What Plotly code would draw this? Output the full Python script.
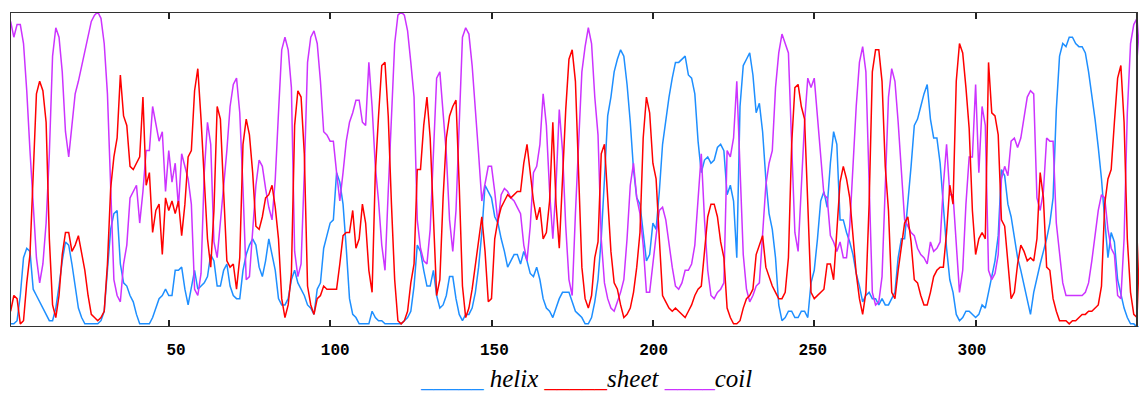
import plotly.graph_objects as go

# Secondary-structure prediction probabilities per residue
helix = [
    0.01, 0.01, 0.02, 0.10, 0.22, 0.25, 0.24, 0.12, 0.10, 0.08, 0.06, 0.04, 0.02, 0.02, 0.06, 0.13,
    0.21, 0.27, 0.26, 0.20, 0.13, 0.06, 0.03, 0.01, 0.01, 0.01, 0.01, 0.01, 0.02, 0.05, 0.18, 0.31,
    0.36, 0.37, 0.20, 0.14, 0.13, 0.10, 0.08, 0.04, 0.01, 0.01, 0.01, 0.01, 0.03, 0.06, 0.09, 0.10,
    0.12, 0.10, 0.10, 0.18, 0.18, 0.19, 0.12, 0.07, 0.13, 0.18, 0.12, 0.13, 0.14, 0.16, 0.23,
    0.21, 0.13, 0.13, 0.18, 0.20, 0.13, 0.10, 0.09, 0.09, 0.18, 0.23, 0.26, 0.28, 0.26, 0.19, 0.16,
    0.21, 0.28, 0.23, 0.18, 0.09, 0.07, 0.07, 0.09, 0.15, 0.18, 0.14, 0.12, 0.10, 0.07, 0.06, 0.04,
    0.12, 0.14, 0.25, 0.29, 0.33, 0.34, 0.49, 0.46, 0.39, 0.25, 0.09, 0.04, 0.03, 0.01, 0.01, 0.01,
    0.01, 0.05, 0.03, 0.02, 0.02, 0.01, 0.01, 0.01, 0.01, 0.01, 0.01, 0.02, 0.03, 0.05, 0.13, 0.26,
    0.24, 0.18, 0.13, 0.13, 0.18, 0.10, 0.06, 0.07, 0.10, 0.16, 0.16, 0.09, 0.04, 0.02, 0.04, 0.04,
    0.06, 0.11, 0.19, 0.30, 0.45, 0.43, 0.41, 0.35, 0.33, 0.28, 0.24, 0.19, 0.21, 0.23, 0.23,
    0.20, 0.24, 0.21, 0.17, 0.16, 0.19, 0.15, 0.09, 0.06, 0.05, 0.03, 0.06, 0.09, 0.11, 0.11, 0.11,
    0.08, 0.05, 0.04, 0.03, 0.01, 0.01, 0.03, 0.08, 0.15, 0.28, 0.47, 0.67, 0.73, 0.81, 0.85, 0.88,
    0.86, 0.77, 0.65, 0.50, 0.41, 0.39, 0.30, 0.21, 0.23, 0.33, 0.31, 0.43, 0.58, 0.66, 0.73, 0.79,
    0.84, 0.84, 0.85, 0.86, 0.80, 0.79, 0.74, 0.59, 0.49, 0.53, 0.54, 0.52, 0.53, 0.57, 0.58, 0.56,
    0.42, 0.45, 0.40, 0.22, 0.70, 0.83, 0.85, 0.87, 0.80, 0.68, 0.71, 0.62, 0.47, 0.36, 0.31, 0.22,
    0.07, 0.02, 0.03, 0.05, 0.05, 0.03, 0.03, 0.05, 0.05, 0.03, 0.14, 0.18, 0.28, 0.40, 0.43,
    0.38, 0.52, 0.62, 0.58, 0.34, 0.34, 0.30, 0.27, 0.23, 0.17, 0.13, 0.08, 0.10, 0.11, 0.09, 0.09,
    0.07, 0.09, 0.07, 0.07, 0.09, 0.11, 0.22, 0.28, 0.28, 0.39, 0.51, 0.64, 0.66, 0.70, 0.74, 0.77,
    0.66, 0.60, 0.60, 0.52, 0.38, 0.25, 0.15, 0.11, 0.04, 0.02, 0.03, 0.05, 0.05, 0.04, 0.03, 0.04,
    0.07, 0.06, 0.11, 0.16, 0.21, 0.29, 0.50, 0.48, 0.39, 0.35, 0.28, 0.22, 0.18, 0.13, 0.08, 0.04,
    0.11, 0.16, 0.20, 0.24, 0.28, 0.33, 0.41, 0.69, 0.86, 0.90, 0.89, 0.92, 0.92, 0.90, 0.89, 0.89,
    0.87, 0.81, 0.74, 0.66, 0.57, 0.47, 0.34, 0.22, 0.30, 0.27, 0.15, 0.10, 0.06, 0.03, 0.01, 0.01,
    0.00, 0.00, 0.00, 0.00,
]

sheet = [
    0.05, 0.10, 0.09, 0.01, 0.02, 0.14, 0.23, 0.51, 0.74, 0.78, 0.75, 0.65, 0.28, 0.07, 0.03, 0.10,
    0.23, 0.30, 0.30, 0.24, 0.26, 0.29, 0.23, 0.18, 0.10, 0.04, 0.03, 0.02, 0.03, 0.05, 0.20, 0.44,
    0.54, 0.60, 0.80, 0.67, 0.64, 0.51, 0.50, 0.52, 0.54, 0.73, 0.45, 0.49, 0.30, 0.37, 0.39, 0.23,
    0.41, 0.37, 0.40, 0.36, 0.40, 0.29, 0.39, 0.54, 0.56, 0.75, 0.82, 0.66, 0.47, 0.28, 0.19,
    0.37, 0.70, 0.66, 0.43, 0.21, 0.19, 0.20, 0.12, 0.22, 0.58, 0.66, 0.61, 0.49, 0.32, 0.31, 0.35,
    0.41, 0.42, 0.45, 0.38, 0.28, 0.09, 0.03, 0.07, 0.17, 0.64, 0.75, 0.73, 0.55, 0.13, 0.07, 0.04,
    0.09, 0.10, 0.13, 0.12, 0.12, 0.12, 0.12, 0.20, 0.29, 0.30, 0.30, 0.37, 0.25, 0.28, 0.39, 0.33,
    0.18, 0.11, 0.49, 0.67, 0.83, 0.84, 0.67, 0.39, 0.15, 0.02, 0.01, 0.02, 0.05, 0.14, 0.20, 0.50,
    0.50, 0.64, 0.73, 0.60, 0.36, 0.10, 0.15, 0.41, 0.60, 0.67, 0.70, 0.72, 0.45, 0.13, 0.03, 0.06,
    0.12, 0.20, 0.28, 0.35, 0.24, 0.08, 0.09, 0.28, 0.34, 0.38, 0.40, 0.42, 0.41, 0.42, 0.43,
    0.43, 0.52, 0.58, 0.49, 0.40, 0.34, 0.38, 0.28, 0.30, 0.40, 0.65, 0.39, 0.25, 0.47, 0.69, 0.85,
    0.88, 0.78, 0.51, 0.19, 0.09, 0.06, 0.10, 0.22, 0.27, 0.55, 0.58, 0.41, 0.24, 0.14, 0.12, 0.07,
    0.03, 0.04, 0.06, 0.11, 0.19, 0.30, 0.60, 0.73, 0.68, 0.52, 0.47, 0.28, 0.10, 0.08, 0.06, 0.05,
    0.06, 0.05, 0.04, 0.03, 0.05, 0.07, 0.10, 0.12, 0.13, 0.23, 0.35, 0.39, 0.39, 0.35, 0.27, 0.22,
    0.06, 0.03, 0.01, 0.01, 0.02, 0.06, 0.09, 0.10, 0.12, 0.23, 0.26, 0.29, 0.19, 0.16, 0.13, 0.11,
    0.09, 0.09, 0.11, 0.22, 0.58, 0.76, 0.77, 0.70, 0.66, 0.39, 0.11, 0.09, 0.10, 0.11, 0.12,
    0.20, 0.20, 0.15, 0.30, 0.46, 0.51, 0.47, 0.41, 0.29, 0.17, 0.09, 0.04, 0.11, 0.39, 0.81, 0.88,
    0.88, 0.78, 0.51, 0.37, 0.11, 0.09, 0.18, 0.25, 0.33, 0.35, 0.27, 0.15, 0.14, 0.10, 0.07, 0.07,
    0.11, 0.16, 0.18, 0.19, 0.19, 0.30, 0.45, 0.39, 0.78, 0.90, 0.87, 0.76, 0.63, 0.37, 0.23, 0.28,
    0.30, 0.28, 0.84, 0.68, 0.67, 0.61, 0.34, 0.32, 0.20, 0.09, 0.11, 0.20, 0.26, 0.24, 0.21, 0.22,
    0.21, 0.28, 0.49, 0.41, 0.19, 0.18, 0.09, 0.05, 0.02, 0.02, 0.02, 0.01, 0.02, 0.02, 0.03, 0.04,
    0.04, 0.05, 0.05, 0.06, 0.07, 0.13, 0.39, 0.47, 0.50, 0.65, 0.79, 0.83, 0.65, 0.28, 0.11, 0.04,
    0.03, 0.31, 0.21, 0.20,
]

coil = [
    0.97, 0.92, 0.96, 0.96, 0.90, 0.75, 0.56, 0.39, 0.22, 0.14, 0.20, 0.33, 0.55, 0.86, 0.95, 0.92,
    0.81, 0.62, 0.54, 0.64, 0.74, 0.78, 0.83, 0.88, 0.93, 0.97, 0.99, 1.00, 0.98, 0.90, 0.74, 0.44,
    0.15, 0.10, 0.08, 0.20, 0.26, 0.41, 0.43, 0.45, 0.33, 0.43, 0.56, 0.56, 0.70, 0.64, 0.59, 0.62,
    0.43, 0.56, 0.46, 0.52, 0.38, 0.55, 0.51, 0.47, 0.39, 0.12, 0.10, 0.17, 0.49, 0.65, 0.58,
    0.27, 0.22, 0.33, 0.43, 0.56, 0.70, 0.77, 0.79, 0.68, 0.44, 0.15, 0.16, 0.30, 0.45, 0.53, 0.51,
    0.44, 0.38, 0.34, 0.47, 0.68, 0.88, 0.92, 0.88, 0.76, 0.24, 0.16, 0.20, 0.49, 0.84, 0.92, 0.94,
    0.90, 0.78, 0.62, 0.61, 0.59, 0.59, 0.49, 0.40, 0.49, 0.59, 0.65, 0.68, 0.72, 0.72, 0.65, 0.64,
    0.84, 0.70, 0.51, 0.40, 0.26, 0.18, 0.43, 0.67, 0.90, 0.99, 1.00, 0.99, 0.94, 0.84, 0.73, 0.34,
    0.25, 0.21, 0.20, 0.31, 0.57, 0.79, 0.81, 0.68, 0.55, 0.34, 0.24, 0.37, 0.67, 0.92, 0.95, 0.93,
    0.83, 0.70, 0.55, 0.40, 0.45, 0.51, 0.51, 0.43, 0.33, 0.42, 0.44, 0.43, 0.41, 0.40, 0.38,
    0.36, 0.26, 0.21, 0.32, 0.49, 0.51, 0.58, 0.74, 0.64, 0.43, 0.28, 0.45, 0.69, 0.56, 0.32, 0.15,
    0.10, 0.36, 0.59, 0.81, 0.89, 0.95, 0.90, 0.73, 0.61, 0.28, 0.14, 0.09, 0.06, 0.05, 0.08, 0.11,
    0.15, 0.28, 0.45, 0.52, 0.41, 0.36, 0.26, 0.11, 0.11, 0.21, 0.29, 0.37, 0.38, 0.34, 0.26, 0.19,
    0.13, 0.12, 0.14, 0.18, 0.18, 0.20, 0.26, 0.41, 0.55, 0.34, 0.18, 0.10, 0.09, 0.11, 0.12, 0.14,
    0.56, 0.54, 0.60, 0.78, 0.49, 0.23, 0.12, 0.08, 0.10, 0.13, 0.14, 0.30, 0.45, 0.52, 0.56, 0.76,
    0.87, 0.93, 0.90, 0.87, 0.58, 0.30, 0.24, 0.43, 0.65, 0.79, 0.76, 0.79, 0.66, 0.52, 0.42,
    0.41, 0.29, 0.27, 0.24, 0.27, 0.22, 0.22, 0.32, 0.51, 0.70, 0.84, 0.89, 0.81, 0.48, 0.11, 0.07,
    0.08, 0.16, 0.42, 0.73, 0.82, 0.78, 0.65, 0.48, 0.34, 0.32, 0.30, 0.29, 0.25, 0.23, 0.22, 0.20,
    0.27, 0.24, 0.25, 0.27, 0.45, 0.58, 0.42, 0.42, 0.27, 0.11, 0.18, 0.39, 0.54, 0.54, 0.77, 0.49,
    0.70, 0.64, 0.18, 0.15, 0.17, 0.23, 0.47, 0.51, 0.48, 0.59, 0.60, 0.57, 0.60, 0.67, 0.73, 0.75,
    0.74, 0.41, 0.37, 0.43, 0.60, 0.59, 0.59, 0.33, 0.23, 0.14, 0.10, 0.10, 0.10, 0.10, 0.10, 0.10,
    0.11, 0.14, 0.21, 0.30, 0.37, 0.42, 0.41, 0.31, 0.25, 0.23, 0.10, 0.09, 0.28, 0.68, 0.90, 0.96,
    0.98, 0.84, 0.85, 0.86,
]

residues = list(range(1, len(helix) + 1))

tick_values = [50, 100, 150, 200, 250, 300, 350]
label_values = [50, 100, 150, 200, 250, 300]
label_text = ["50", "100", "150", "200", "250", "300"]

FRAME_END = 350          # last residue enclosed by the frame
X_RANGE = [0.81, 353.1]  # visible residue range
LABEL_RANGE = [-2.14, 354.96]

HELIX_COLOR = "#1e8fff"
SHEET_COLOR = "#ff0000"
COIL_COLOR = "#cc33ff"

fig = go.Figure()
fig.add_trace(go.Scatter(x=residues, y=helix, mode="lines", name="helix",
                         line=dict(color=HELIX_COLOR, width=1.5)))
fig.add_trace(go.Scatter(x=residues, y=coil, mode="lines", name="coil",
                         line=dict(color=COIL_COLOR, width=1.5)))
fig.add_trace(go.Scatter(x=residues, y=sheet, mode="lines", name="sheet",
                         line=dict(color=SHEET_COLOR, width=1.5)))
# empty carrier trace so the label axis (x2) is rendered
fig.add_trace(go.Scatter(x=[], y=[], xaxis="x2", yaxis="y", mode="lines",
                         showlegend=False, hoverinfo="skip"))

# the page body adds an 8px margin, so the figure is 8px smaller than the window
fig.update_layout(
    width=1139, height=388,
    margin=dict(l=2, r=0, t=4, b=69),
    plot_bgcolor="white", paper_bgcolor="white",
    showlegend=False,
    xaxis=dict(
        range=X_RANGE, tickmode="array", tickvals=tick_values,
        showticklabels=False, ticks="inside", ticklen=7, tickwidth=2,
        tickcolor="#222222", showline=True, linecolor="rgba(0,0,0,0)",
        mirror="ticks", showgrid=False, zeroline=False,
    ),
    xaxis2=dict(
        overlaying="x", anchor="y", side="bottom", range=LABEL_RANGE,
        tickmode="array", tickvals=label_values, ticktext=label_text,
        ticks="", showline=False, showgrid=False, zeroline=False,
        ticklabelstandoff=11,
        tickfont=dict(family="Liberation Mono", size=16, color="black", weight="bold"),
    ),
    yaxis=dict(range=[0, 1], showticklabels=False, showgrid=False,
               zeroline=False, ticks=""),
)

fig.add_shape(type="rect", xref="x", yref="y", x0=X_RANGE[0], x1=FRAME_END,
              y0=0, y1=1, line=dict(color="#333333", width=2), layer="above")

fig.add_annotation(
    xref="paper", yref="paper", x=0.5066, y=-0.165,
    xanchor="center", yanchor="middle", showarrow=False,
    text=(f"<i><span style='color:{HELIX_COLOR}'>_____</span> helix "
          f"<span style='color:{SHEET_COLOR}'>_____</span>sheet "
          f"<span style='color:{COIL_COLOR}'>____</span>coil</i>"),
    font=dict(family="Liberation Serif", size=25, color="black"),
)

fig.write_html("out.html")
